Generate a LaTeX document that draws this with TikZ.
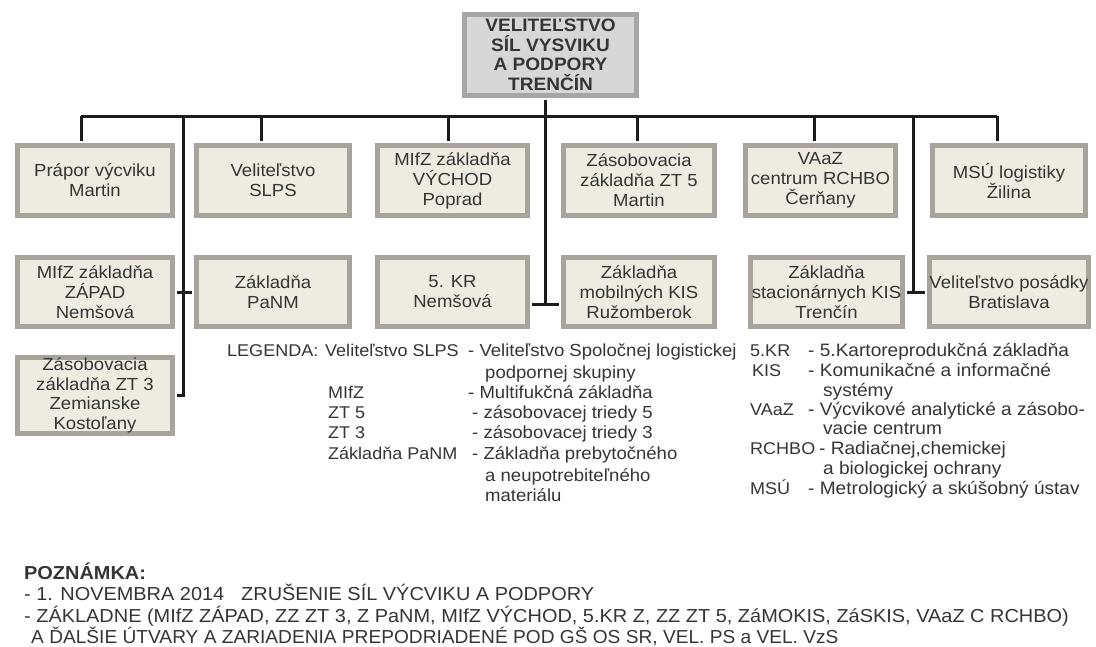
\documentclass[tikz,border=0pt]{standalone}
\usepackage{fontspec}
\setmainfont{Liberation Sans}[FakeStretch=1.06]
\usetikzlibrary{shadows}
\definecolor{txt}{HTML}{353535}
\definecolor{boxfill}{HTML}{EEEBE0}
\definecolor{boxline}{HTML}{A9A39D}
\definecolor{topfill}{HTML}{D7D7D7}
\definecolor{topline}{HTML}{A6A6A6}
\definecolor{conn}{HTML}{1C1C1C}
\begin{document}
\begin{tikzpicture}[x=1pt,y=-1pt,
 unit/.style={draw=boxline, line width=5pt, fill=boxfill, text=txt, align=center, inner sep=0pt, font=\fontsize{17.5}{20}\selectfont},
 head/.style={draw=topline, line width=5pt, fill=topfill, text=txt, align=center, inner sep=0pt, font=\bfseries\fontsize{18}{19.5}\selectfont,
   drop shadow={shadow xshift=1.5pt, shadow yshift=-2pt, fill=black!45, opacity=0.5}},
 link/.style={draw=conn, line width=3pt},
 leg/.style={anchor=base west, inner sep=0pt, text=txt, font=\fontsize{17}{20}\selectfont},
 legd/.style={anchor=base west, inner sep=0pt, text=txt, font=\fontsize{17.5}{20}\selectfont},
 legr/.style={anchor=base west, inner sep=0pt, text=txt, font=\fontsize{18}{20}\selectfont},
 note/.style={anchor=base west, inner sep=0pt, text=txt, font=\fontsize{18.8}{20}\selectfont}]

\useasboundingbox[fill=white] (0,0) rectangle (1096,646);

% head
\node[head, minimum width=172pt, minimum height=81pt] (top) at (550.5,55) {VELITEĽSTVO\\SÍL VYSVIKU\\A PODPORY\\TRENČÍN};

% row 1
\node[unit, minimum width=155pt, minimum height=70pt] (b1) at (95,180.5) {Prápor výcviku\\Martin};
\node[unit, minimum width=153pt, minimum height=70pt] (b2) at (273,180.5) {Veliteľstvo\\SLPS};
\node[unit, minimum width=150pt, minimum height=70pt] (b3) at (452.5,180.5) {MIfZ základňa\\VÝCHOD\\Poprad};
\node[unit, minimum width=151pt, minimum height=70pt] (b4) at (639,180.5) {Zásobovacia\\základňa ZT 5\\Martin};
\node[unit, minimum width=150pt, minimum height=70pt] (b5) at (820.5,180.5) {VAaZ\\centrum RCHBO\\Čerňany};
\node[unit, minimum width=153pt, minimum height=70pt] (b6) at (1009,180.5) {MSÚ logistiky\\Žilina};

% row 2
\node[unit, minimum width=155pt, minimum height=69pt] (c1) at (95,292) {MIfZ základňa\\ZÁPAD\\Nemšová};
\node[unit, minimum width=153pt, minimum height=69pt] (c2) at (273,292) {Základňa\\PaNM};
\node[unit, minimum width=150pt, minimum height=69pt] (c3) at (452.5,292) {5. KR\\Nemšová};
\node[unit, minimum width=151pt, minimum height=69pt] (c4) at (639,292) {Základňa\\mobilných KIS\\Ružomberok};
\node[unit, minimum width=152pt, minimum height=69pt] (c5) at (826.5,292) {Základňa\\stacionárnych KIS\\Trenčín};
\node[unit, minimum width=153pt, minimum height=69pt] (c6) at (1009,292) {Veliteľstvo posádky\\Bratislava};

% row 3
\node[unit, minimum width=155pt, minimum height=72pt, font=\fontsize{17.5}{19.5}\selectfont] (d1) at (95,395.5) {Zásobovacia\\základňa ZT 3\\Zemianske\\Kostoľany};

% connector points
\coordinate (t1) at (81,116);
\coordinate (t2) at (261,116);
\coordinate (t3) at (448,116);
\coordinate (t4) at (637,116);
\coordinate (t5) at (814,116);
\coordinate (t6) at (997,116);
\coordinate (va) at (183,116);
\coordinate (vc) at (545,304);
\coordinate (ve) at (913,116);

\draw[link] (t1) -- (t6);
\draw[link, shorten >=2pt] (t1) -- (t1 |- b1.north);
\draw[link, shorten >=2pt] (t2) -- (t2 |- b2.north);
\draw[link, shorten >=2pt] (t3) -- (t3 |- b3.north);
\draw[link, shorten >=2pt] (t4) -- (t4 |- b4.north);
\draw[link, shorten >=2pt] (t5) -- (t5 |- b5.north);
\draw[link, shorten >=2pt] (t6) -- (t6 |- b6.north);
\draw[link, shorten >=2pt] (va) |- (d1.east);
\draw[link, shorten <=2pt, shorten >=2pt] (c1.east) -- (c2.west);
\draw[link, shorten <=2pt] (top.south -| vc) -- (vc);
\draw[link, shorten <=2pt, shorten >=2pt] (c3.east |- vc) -- (c4.west |- vc);
\draw[link] (ve) -- (ve |- c5.east);
\draw[link, shorten <=2pt, shorten >=2pt] (c5.east) -- (c6.west);

% legend left
\node[leg] (lg) at (227,356) {LEGENDA:};
\node[leg] (k1) at (325,356) {Veliteľstvo SLPS};
\node[leg] (k2) at (328,398) {MIfZ};
\node[leg] (k3) at (328,418) {ZT 5};
\node[leg] (k4) at (328,438) {ZT 3};
\node[leg] (k5) at (328,459) {Základňa PaNM};
\node[legd] (e1) at (468,356) {- Veliteľstvo Spoločnej logistickej};
\node[legd] (e1b) at (485,378) {podpornej skupiny};
\node[legd] (e2) at (468,398) {- Multifukčná základňa};
\node[legd] (e3) at (472,418) {- zásobovacej triedy 5};
\node[legd] (e4) at (472,438) {- zásobovacej triedy 3};
\node[legd] (e5) at (472,459) {- Základňa prebytočného};
\node[legd] (e5b) at (485,481) {a neupotrebiteľného};
\node[legd] (e5c) at (485,501) {materiálu};

% legend right
\node[leg] (r1) at (750,356) {5.KR};
\node[leg] (r2) at (752,376) {KIS};
\node[leg] (r3) at (750,415) {VAaZ};
\node[leg] (r4) at (750,454) {RCHBO};
\node[leg] (r5) at (750,494) {MSÚ};
\node[legr] (s1) at (808,356) {- 5.Kartoreprodukčná základňa};
\node[legr] (s2) at (808,376) {- Komunikačné a informačné};
\node[legr] (s2b) at (823,396) {systémy};
\node[legr] (s3) at (808,415) {- Výcvikové analytické a zásobo-};
\node[legr] (s3b) at (823,434) {vacie centrum};
\node[legr] (s4) at (819,454) {- Radiačnej,chemickej};
\node[legr] (s4b) at (823,474) {a biologickej ochrany};
\node[legr] (s5) at (808,494) {- Metrologický a skúšobný ústav};

% note
\node[note, font=\bfseries\fontsize{18.8}{20}\selectfont] (n0) at (24,579) {POZNÁMKA:};
\node[note] (n1) at (24,600) {- 1. NOVEMBRA 2014};
\node[note] (n1b) at (241,600) {ZRUŠENIE SÍL VÝCVIKU A PODPORY};
\node[note] (n2) at (24,622) {- ZÁKLADNE (MIfZ ZÁPAD, ZZ ZT 3, Z PaNM, MIfZ VÝCHOD, 5.KR Z, ZZ ZT 5, ZáMOKIS, ZáSKIS, VAaZ C RCHBO)};
\node[note] (n3) at (31,643) {\scalebox{0.96}[1]{A ĎALŠIE ÚTVARY A ZARIADENIA PREPODRIADENÉ POD GŠ OS SR, VEL. PS a VEL. VzS}};
\end{tikzpicture}
\end{document}
